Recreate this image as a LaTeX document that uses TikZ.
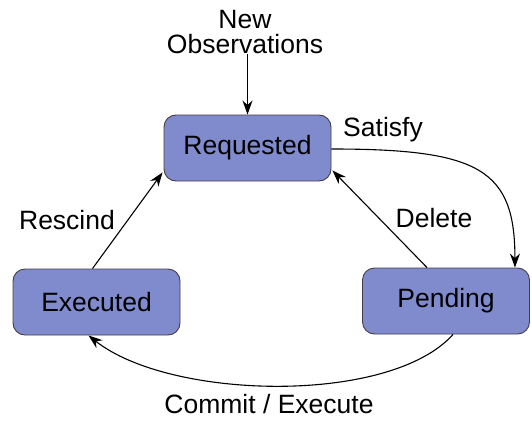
\documentclass[tikz,border=0pt]{standalone}
\usepackage{fontspec}
\setmainfont{Liberation Sans}
\usetikzlibrary{arrows.meta,calc}
\definecolor{stateblue}{RGB}{127,139,205}
\definecolor{stateedge}{RGB}{70,60,70}
\tikzset{
  state/.style={draw=stateedge, line width=0.9pt, fill=stateblue, rounded corners=12pt,
    minimum width=167pt, minimum height=66pt, inner sep=0pt,
    font=\fontsize{26.5}{27}\selectfont},
  lbl/.style={font=\fontsize{26.5}{27}\selectfont, inner sep=0pt, align=center},
  flow/.style={line width=1.1pt, -{Stealth[length=14pt,width=10pt,inset=4.5pt]}}
}
\begin{document}
\begin{tikzpicture}[x=1pt,y=-1pt]
  \useasboundingbox (0,0) rectangle (532,420);
  % states
  \node[state] (req) at (247.5,148) {Requested};
  \node[state] (pen) at (446,301) {Pending};
  \node[state] (exe) at (96.5,302) {Executed};
  % labels
  \node[lbl, font=\fontsize{26.5}{25}\selectfont] (obs) at (245,32) {New\\Observations};
  \node[lbl] (sat) at (383,130) {Satisfy};
  \node[lbl] (del) at (434,218) {Delete};
  \node[lbl] (res) at (67,220) {Rescind};
  \node[lbl] (com) at (269,404) {Commit / Execute};
  % free ends on the boxes
  \coordinate (reqR) at ($(req.east)+(0,1)$);
  \coordinate (penT) at ($(pen.north east)-(15,0)$);
  \coordinate (penB) at ($(pen.south)+(7,0)$);
  \coordinate (exeB) at ($(exe.south)-(8,0)$);
  % transitions
  \draw[flow] (obs.south -| req.north) -- (req.north);
  \draw[flow] (reqR) .. controls (480,149) and ($(penT)+(0,-98)$) .. (penT);
  \draw[flow] ($(pen.north)-(19,0)$) -- ($(req.south east)+(1,-11)$);
  \draw[flow] ($(exe.north)-(4,0)$) -- ($(req.south west)+(-1,-9)$);
  \draw[flow] (penB) .. controls (390,405) and (170,400) .. (exeB);
\end{tikzpicture}
\end{document}
